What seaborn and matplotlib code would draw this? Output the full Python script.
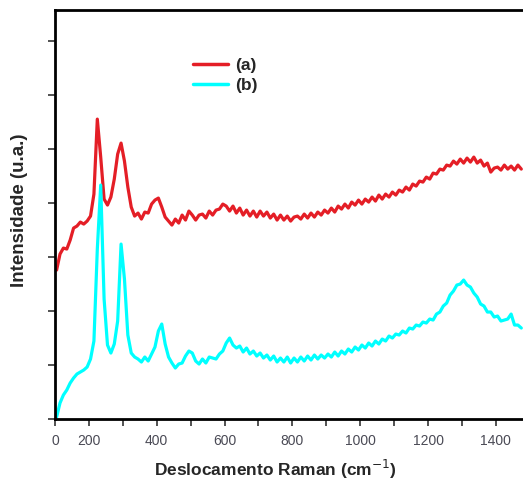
import numpy as np
import pandas as pd
import matplotlib
matplotlib.use("Agg")
import matplotlib.pyplot as plt
import seaborn as sns

red_a = [149, 165, 171, 170, 179, 191, 193, 197, 195, 198,
         203, 225, 300, 262, 220, 214, 222, 240, 265, 276,
         258, 232, 212, 203, 206, 200, 207, 206, 215, 219,
         221, 212, 202, 198, 194, 200, 196, 204, 199, 208,
         204, 199, 204, 205, 201, 208, 204, 209, 210, 215,
         213, 208, 213, 206, 211, 204, 209, 203, 208, 202,
         208, 203, 207, 201, 205, 199, 204, 199, 203, 198,
         202, 203, 200, 205, 201, 206, 202, 207, 204, 209,
         206, 211, 207, 213, 210, 215, 211, 217, 214, 219,
         215, 220, 217, 222, 218, 224, 220, 225, 222, 227,
         224, 229, 227, 232, 229, 235, 233, 238, 237, 242,
         240, 246, 245, 250, 249, 254, 253, 258, 255, 260,
         256, 261, 257, 262, 256, 259, 253, 256, 247, 251,
         252, 249, 254, 250, 253, 249, 254, 250]
cyan_b = [2, 16, 24, 29, 36, 41, 45, 47, 49, 52,
          60, 78, 170, 234, 120, 74, 66, 75, 98, 175,
          140, 84, 66, 62, 60, 57, 62, 58, 65, 72,
          88, 95, 75, 62, 56, 51, 55, 56, 63, 68,
          66, 58, 55, 60, 56, 62, 61, 60, 65, 68,
          76, 81, 74, 71, 73, 67, 71, 65, 68, 63,
          66, 61, 64, 59, 63, 57, 61, 57, 62, 56,
          61, 57, 62, 58, 63, 59, 64, 60, 64, 61,
          65, 62, 67, 63, 68, 65, 70, 67, 72, 69,
          74, 71, 76, 73, 78, 75, 80, 78, 83, 81,
          85, 84, 88, 86, 91, 90, 94, 93, 97, 96,
          100, 99, 105, 107, 113, 116, 124, 128, 134, 135,
          139, 134, 132, 126, 122, 115, 113, 107, 107, 102,
          103, 98, 99, 100, 105, 94, 94, 91]
shift = np.arange(105, 1480, 10)

xtick_pos = [100, 200, 300, 400, 500, 600, 700, 800, 900, 1000, 1100, 1200, 1300, 1400]
xtick_lab = ["0", "200", "", "400", "", "600", "", "800", "", "1000", "", "1200", "", "1400"]

df = pd.DataFrame({"shift": shift, "(a)": red_a, "(b)": cyan_b})

sns.set_style("ticks")
plt.rcParams["font.family"] = ["Liberation Sans", "DejaVu Sans"]

fig = plt.figure(figsize=(5.23, 4.83), dpi=100)
ax = fig.add_axes([0.105, 0.1325, 0.895, 0.8465])

sns.lineplot(x="shift", y="(a)", data=df, color="#e41e26", lw=2.3, label="(a)", ax=ax)
sns.lineplot(x="shift", y="(b)", data=df, color="#00ffff", lw=2.3, label="(b)", ax=ax)

ax.set_xlim(100, 1480)
ax.set_ylim(0, 409)
ax.set_xticks(xtick_pos)
ax.set_xticklabels(xtick_lab)
ax.set_yticks(np.arange(0, 409, 54))
ax.set_yticklabels([])
ax.tick_params(axis="both", direction="out", length=5, width=1.2, color="#333333",
               labelsize=10, labelcolor="#4a4a55", pad=6)
ax.spines["right"].set_visible(False)
for s in ["left", "bottom", "top"]:
    ax.spines[s].set_linewidth(2)
    ax.spines[s].set_color("black")

ax.set_xlabel("Deslocamento Raman (cm$^{-1}$)", fontsize=12.5, fontweight="bold")
ax.set_ylabel("Intensidade (u.a.)", fontsize=13.5, fontweight="bold")
ax.xaxis.set_label_coords(0.472, -0.095)
ax.yaxis.set_label_coords(-0.058, 0.51)

leg = ax.legend(loc="upper left", bbox_to_anchor=(0.369, 0.88), bbox_transform=fig.transFigure,
                frameon=False, borderpad=0, borderaxespad=0, handlelength=2.0,
                handletextpad=0.4, labelspacing=0.3, prop={"weight": "bold", "size": 12.5})
for line in leg.get_lines():
    line.set_linewidth(2.5)

fig.savefig("out.png", dpi=100)
